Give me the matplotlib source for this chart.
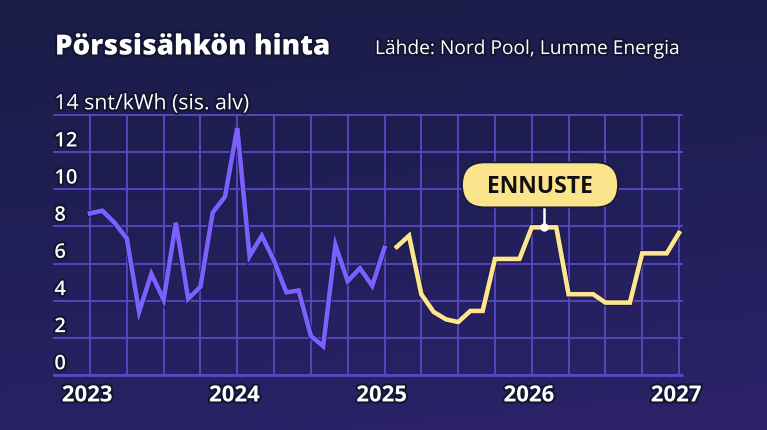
import matplotlib
matplotlib.use("Agg")
import matplotlib.pyplot as plt
import matplotlib.patheffects as pe
from matplotlib.patches import FancyBboxPatch
from matplotlib.colors import LinearSegmentedColormap
import numpy as np

# ---- data (monthly, index 0 = Jan 2023) ----
hist_start = 0
hist_values = [8.7, 8.85, 8.2, 7.35, 3.4, 5.45, 4.05, 8.2, 4.1, 4.75, 8.75, 9.6,
               13.3, 6.4, 7.5, 6.15, 4.45, 4.55, 2.1, 1.55, 7.0, 5.05, 5.75, 4.8, 6.85]
fc_start = 25
fc_values = [6.9, 7.5, 4.35, 3.4, 3.0, 2.85, 3.45, 3.45, 6.25, 6.25, 6.25, 7.95,
             7.95, 7.95, 4.35, 4.35, 4.35, 3.9, 3.9, 3.9, 6.55, 6.55, 6.55, 7.65]
year_labels = ["2023", "2024", "2025", "2026", "2027"]
y_ticks = [0, 2, 4, 6, 8, 10, 12, 14]
annot_text = "ENNUSTE"
annot_index = 37
title = "Pörssisähkön hinta"
source = "Lähde: Nord Pool, Lumme Energia"
unit = "snt/kWh (sis. alv)"

W, H = 767, 431
fig = plt.figure(figsize=(W / 100, H / 100), dpi=100)

# background gradient
bg = fig.add_axes([0, 0, 1, 1])
cmap = LinearSegmentedColormap.from_list("bg", ["#1a1d46", "#211f58", "#2c2269"])
yy, xx = np.mgrid[0:1:200j, 0:1:200j]
grad = yy * 0.85 + xx * 0.15
bg.imshow(grad, cmap=cmap, aspect="auto", extent=[0, 1, 1, 0])
bg.axis("off")

# plotting axes in pixel layout
left_px, right_px, top_px, bot_px = 53, 683, 116, 376
ax = fig.add_axes([left_px / W, (H - bot_px) / H, (right_px - left_px) / W, (bot_px - top_px) / H])
ax.patch.set_alpha(0)
px_per_month = (679 - 90) / 48
xmin = (left_px - 90) / px_per_month
xmax = (right_px - 90) / px_per_month
ax.set_xlim(xmin, xmax)
ax.set_ylim(0, 14)
ax.axis("off")

grid_c = "#5a47c6"
ax.hlines(y_ticks, xmin, xmax, color=grid_c, lw=1.3, zorder=1, clip_on=False)
ax.vlines(np.arange(0, 49, 3), 0, 14, color=grid_c, lw=1.3, zorder=1, clip_on=False)
ax.hlines([0], xmin, xmax, color=grid_c, lw=2.0, zorder=1, clip_on=False)

outline = [pe.withStroke(linewidth=3, foreground="#141433")]

hx = np.arange(hist_start, hist_start + len(hist_values))
ax.plot(hx, hist_values, color="#7b5fff", lw=3.3, solid_joinstyle="miter",
        zorder=3, clip_on=False,
        path_effects=[pe.Stroke(linewidth=4.5, foreground="#1c1a4a"), pe.Normal()])
fx = np.arange(fc_start, fc_start + len(fc_values))
ax.plot(fx, fc_values, color="#fde68f", lw=3.3, solid_joinstyle="miter",
        zorder=3, clip_on=False,
        path_effects=[pe.Stroke(linewidth=4.5, foreground="#1c1a4a"), pe.Normal()])

# y labels
for v in y_ticks:
    if v == 14:
        ax.annotate(f"14 {unit}", xy=(xmin, v), xytext=(1, 0.5), textcoords="offset points",
                    ha="left", va="bottom", color="white", fontsize=15.3,
                    family="Open Sans", fontweight="normal",
                    path_effects=outline, clip_on=False)
    else:
        ax.annotate(str(v), xy=(xmin, v), xytext=(1, 0.5), textcoords="offset points",
                    ha="left", va="bottom", color="white", fontsize=14.5,
                    family="Open Sans", fontweight="semibold",
                    path_effects=outline, clip_on=False)

# year labels
for i, lab in enumerate(year_labels):
    ax.annotate(lab, xy=(i * 12, 0), xytext=(-2, -7.5), textcoords="offset points",
                ha="center", va="top", color="white", fontsize=16,
                family="Open Sans", fontweight="bold", path_effects=outline)

# overlay axes in pixel units for annotation box and titles
ov = fig.add_axes([0, 0, 1, 1], zorder=10)
ov.set_xlim(0, W)
ov.set_ylim(H, 0)
ov.axis("off")
ov.patch.set_alpha(0)

ay = fc_values[annot_index - fc_start]
dot_px = ax.transData.transform((annot_index, ay))
dot_x = dot_px[0]
dot_y = H - dot_px[1]
box_w, box_h = 156, 45
box_bottom = dot_y - 20
box_left = dot_x - 4 - box_w / 2
ov.plot([dot_x, dot_x], [dot_y, box_bottom], color="white", lw=1.8, zorder=4)
ov.plot([dot_x], [dot_y], "o", color="white", ms=5, zorder=5)
ov.add_patch(FancyBboxPatch((box_left, box_bottom - box_h), box_w, box_h,
                            boxstyle=f"round,pad=0,rounding_size={box_h/2}",
                            fc="#fce48d", ec="#1a1a3a", lw=1.3, zorder=6))
ov.text(box_left + box_w / 2, box_bottom - box_h / 2 + 1, annot_text, ha="center", va="center",
        fontsize=16.5, fontweight="bold", family="Open Sans", color="#111111", zorder=7)

# titles
ov.text(55, 48, title, ha="left", va="center", color="white",
        fontsize=20, fontweight="heavy", family="Open Sans", path_effects=outline)
ov.text(375, 50, source, ha="left", va="center", color="white",
        fontsize=13.8, family="Open Sans", path_effects=outline)

fig.savefig("out.png", dpi=100)
